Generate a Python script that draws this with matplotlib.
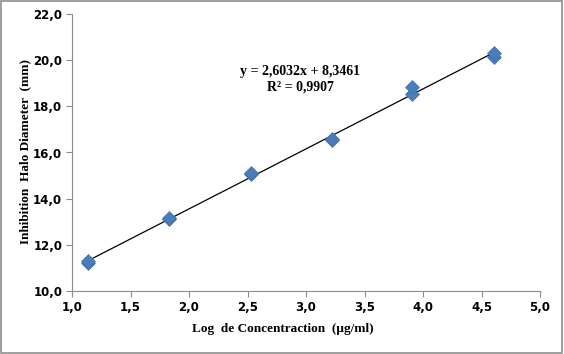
import matplotlib.pyplot as plt
from matplotlib.patches import Rectangle
import numpy as np

log_conc = [1.14, 1.14, 1.83, 1.83, 2.53, 2.53, 3.22, 3.22, 3.91, 3.91, 4.61, 4.61]
halo_mm = [11.2, 11.3, 13.1, 13.15, 15.07, 15.1, 16.55, 16.6, 18.55, 18.82, 20.15, 20.33]
x_ticks = [1.0, 1.5, 2.0, 2.5, 3.0, 3.5, 4.0, 4.5, 5.0]
y_ticks = [10, 12, 14, 16, 18, 20, 22]
eq_text = "y = 2,6032x + 8,3461\nR² = 0,9907"

W, H = 564, 354
fig = plt.figure(figsize=(W / 100, H / 100), dpi=100)
ax = fig.add_axes([72/W, 1 - 291/H, 468/W, 277/H])

fig.patches.append(Rectangle((0.002, 0.003), 0.995, 0.993, transform=fig.transFigure,
                             fill=False, edgecolor='#8c8c8c', linewidth=1.2))

# trend line from a linear fit
k, b = np.polyfit(log_conc, halo_mm, 1)
xs = np.array([min(log_conc), max(log_conc)])
ax.plot(xs, k * xs + b, color='black', linewidth=0.9, zorder=2)
ax.scatter(log_conc, halo_mm, marker='D', s=50, color='#4a7ebb', edgecolor='#3f6fa8',
           linewidth=0.5, zorder=3)

ax.set_xlim(1.0, 5.0)
ax.set_ylim(10, 22)
ax.set_xticks(x_ticks)
ax.set_yticks(y_ticks)
ax.set_xticklabels([f"{t:.1f}".replace('.', ',') for t in x_ticks])
ax.set_yticklabels([f"{t:.1f}".replace('.', ',') for t in y_ticks])
for lab in ax.get_xticklabels() + ax.get_yticklabels():
    lab.set_fontweight('bold')
    lab.set_fontsize(8.5)
    lab.set_fontfamily('DejaVu Sans')
ax.tick_params(direction='out', length=4, color='#8c8c8c', width=0.8, pad=3)

for s in ['top', 'right']:
    ax.spines[s].set_visible(False)
for s in ['left', 'bottom']:
    ax.spines[s].set_color('#8c8c8c')
    ax.spines[s].set_linewidth(0.8)

fig.text(283/W, 1 - 329/H, "Log  de Concentraction  (µg/ml)", family='Liberation Serif',
         fontweight='bold', fontsize=9.5, ha='center', va='center')
fig.text(25/W, 1 - 152/H, "Inhibition  Halo Diameter  (mm)", family='Liberation Serif',
         fontweight='bold', fontsize=9.5, ha='center', va='center', rotation=90)

ax.text(2.95, 19.18, eq_text, ha='center', va='center', family='Liberation Serif',
        fontweight='bold', fontsize=10, linespacing=1.25)

fig.savefig('out.png', dpi=100)
